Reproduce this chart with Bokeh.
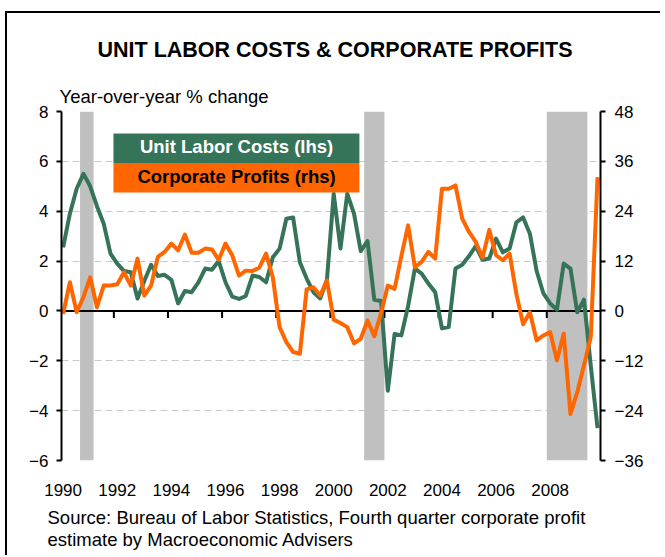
from bokeh.plotting import figure
from bokeh.models import Range1d, LinearAxis, FixedTicker, Span, BoxAnnotation, Label, Title
from bokeh.embed import file_html
from bokeh.resources import INLINE

# ---------------- data ----------------
start_year = 1990
n_quarters = 80  # 1990Q1 .. 2009Q4
quarters = [f"{start_year + i // 4}Q{i % 4 + 1}" for i in range(n_quarters)]

unit_labor_costs = [
    2.55, 3.9, 4.9, 5.5, 5.0, 4.2, 3.5, 2.3, 1.9, 1.6,
    1.55, 0.5, 1.2, 1.85, 1.4, 1.45, 1.25, 0.3, 0.8, 0.75,
    1.15, 1.7, 1.65, 2.0, 1.15, 0.57, 0.48, 0.6, 1.42, 1.36,
    1.15, 2.15, 2.5, 3.7, 3.75, 1.95, 1.3, 0.75, 0.5, 1.25,
    4.7, 2.5, 4.7, 3.9, 2.4, 2.8, 0.45, 0.4, -3.2, -0.92,
    -0.98, 0.2, 1.7, 1.5, 1.1, 0.75, -0.7, -0.65, 1.7, 1.85,
    2.2, 2.6, 2.05, 2.1, 2.9, 2.35, 2.5, 3.55, 3.75, 3.1,
    1.6, 0.7, 0.3, 0.05, 1.9, 1.7, -0.05, 0.45, -2.2, -4.7,
]

corporate_profits = [
    -0.7, 6.9, -0.3, 3.3, 8.1, 0.9, 6.1, 6.1, 6.4, 9.3,
    6.1, 12.6, 3.7, 6.1, 13.0, 14.2, 16.2, 14.6, 18.4, 14.0,
    14.0, 15.0, 14.8, 12.3, 16.2, 13.4, 8.5, 9.7, 9.6, 10.4,
    13.8, 8.1, -3.9, -7.5, -9.9, -10.3, 5.2, 5.7, 3.7, 7.3,
    -2.1, -2.9, -3.9, -7.8, -6.7, -2.3, -6.1, -0.5, 6.1, 5.3,
    13.2, 20.6, 10.5, 11.8, 14.2, 12.6, 29.4, 29.4, 30.2, 22.2,
    19.0, 16.6, 12.8, 19.5, 13.4, 12.2, 13.8, 4.1, -3.2, -0.3,
    -7.1, -5.9, -5.1, -11.9, -5.5, -24.8, -19.6, -13.1, -6.3, 32.2,
]

recession_start = [1990.625, 2001.125, 2007.875]
recession_end = [1991.125, 2001.875, 2009.375]

year_labels = [1990, 1992, 1994, 1996, 1998, 2000, 2002, 2004, 2006, 2008]
lhs_ticks = [-6, -4, -2, 0, 2, 4, 6, 8]
rhs_ticks = [-36, -24, -12, 0, 12, 24, 36, 48]
year_boundaries = [1991.875, 1993.875, 1995.875, 1997.875, 1999.875,
                   2001.875, 2003.875, 2005.875, 2007.875]

title_text = "UNIT LABOR COSTS & CORPORATE PROFITS"
ylabel_text = "Year-over-year % change"
source_lines = ["Source: Bureau of Labor Statistics, Fourth quarter corporate profit",
                "estimate by Macroeconomic Advisers"]
series_names = ["Unit Labor Costs (lhs)", "Corporate Profits (rhs)"]

# quarter positions as fractional years
x = [int(q[:4]) + (int(q[-1]) - 1) / 4 for q in quarters]

# ---------------- styles ----------------
GREEN = "#367459"
ORANGE = "#FF6600"
GRAY = "#C0C0C0"
FONT = "Liberation Sans"

p = figure(width=655, height=544,
           x_range=Range1d(1989.94, 2009.86), y_range=Range1d(lhs_ticks[0], lhs_ticks[-1]),
           output_backend="svg", toolbar_location=None,
           min_border_left=54, min_border_right=62, min_border_top=98, min_border_bottom=97)
p.styles = {"border-left": "2px solid black", "border-top": "2px solid black",
            "margin-left": "5px", "margin-top": "11px"}
p.title.text = ""
p.title.visible = False
p.outline_line_color = None
p.background_fill_color = "white"
p.border_fill_color = "white"
p.extra_y_ranges = {"rhs": Range1d(rhs_ticks[0], rhs_ticks[-1])}

# grid
p.xgrid.visible = False
p.ygrid.ticker = FixedTicker(ticks=lhs_ticks)
p.ygrid.grid_line_color = "#C8C8C8"
p.ygrid.grid_line_dash = "7 4"
p.ygrid.grid_line_width = 1

def style_y_axis(ax, standoff):
    ax.axis_line_width = 2
    ax.axis_line_color = "black"
    ax.major_tick_line_width = 2
    ax.major_tick_out = 5
    ax.major_tick_in = 0
    ax.minor_tick_line_color = None
    ax.major_label_standoff = standoff
    ax.major_label_text_font = FONT
    ax.major_label_text_font_size = "17px"
    ax.major_label_text_color = "black"

# left axis
la = p.yaxis[0]
la.ticker = FixedTicker(ticks=lhs_ticks)
style_y_axis(la, 8)

# right axis
ra = LinearAxis(y_range_name="rhs", ticker=FixedTicker(ticks=rhs_ticks))
style_y_axis(ra, 9)
p.add_layout(ra, "right")

# bottom axis (labels only)
xa = p.xaxis[0]
xa.ticker = FixedTicker(ticks=year_labels)
xa.axis_line_color = None
xa.major_tick_line_color = None
xa.minor_tick_line_color = None
xa.major_label_standoff = 17
xa.major_label_text_font = FONT
xa.major_label_text_font_size = "17px"
xa.major_label_text_color = "black"

# recession shading
for s, e in zip(recession_start, recession_end):
    p.add_layout(BoxAnnotation(left=s, right=e, fill_color=GRAY, fill_alpha=1.0,
                               line_color=None, level="underlay"))

# zero line
p.add_layout(Span(location=0, dimension="width", line_color="black", line_width=2, level="underlay"))

# tick marks on zero line
p.segment(x0=year_boundaries, y0=[0] * len(year_boundaries),
          x1=year_boundaries, y1=[-0.28] * len(year_boundaries),
          line_color="black", line_width=2)

# series
p.line(x, unit_labor_costs, line_color=GREEN, line_width=4, line_join="round")
p.line(x, corporate_profits, y_range_name="rhs", line_color=ORANGE, line_width=4, line_join="round")

# legend boxes
p.add_layout(BoxAnnotation(left=1991.86, right=2000.95, top=7.12, bottom=5.93,
                           fill_color=GREEN, fill_alpha=1.0, line_color=None))
p.add_layout(BoxAnnotation(left=1991.86, right=2000.95, top=5.93, bottom=4.75,
                           fill_color=ORANGE, fill_alpha=1.0, line_color=None))
p.add_layout(Label(x=1996.41, y=6.58, text=series_names[0], text_align="center",
                   text_baseline="middle", text_color="white", text_font_style="bold",
                   text_font_size="18.5px", text_font=FONT))
p.add_layout(Label(x=1996.41, y=5.38, text=series_names[1], text_align="center",
                   text_baseline="middle", text_color="black", text_font_style="bold",
                   text_font_size="18.5px", text_font=FONT))

# y label (closest to frame) and main title above it
p.add_layout(Title(text=ylabel_text, align="left", offset=-2, standoff=10,
                   text_font=FONT, text_font_size="18.5px", text_font_style="normal",
                   text_color="black"), "above")
p.add_layout(Title(text=title_text, align="left", offset=36, standoff=33,
                   text_font=FONT, text_font_size="21.5px", text_font_style="bold",
                   text_color="black"), "above")

# source note below the axis (two lines)
p.add_layout(Title(text="\n".join(source_lines), align="left", offset=-14, standoff=12,
                   text_font=FONT, text_font_size="18.5px", text_font_style="normal",
                   text_line_height=1.08, text_color="black"), "below")

open("out.html", "w").write(file_html(p, INLINE))
